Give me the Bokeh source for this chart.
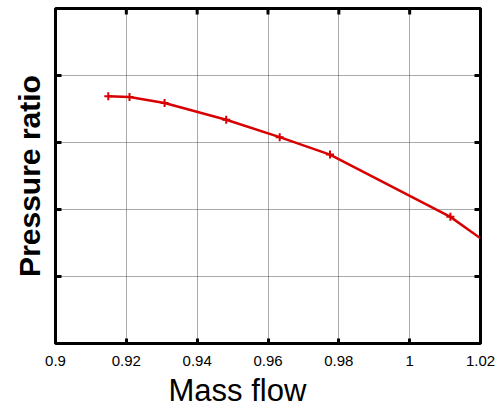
import math
from bokeh.plotting import figure
from bokeh.models import FixedTicker, Range1d, Title
from bokeh.embed import file_html
from bokeh.resources import INLINE

# Data
mass_flow = [0.9149, 0.9209, 0.9308, 0.9482, 0.9633, 0.9775, 1.0115, 1.0200]
pressure_ratio = [1.369, 1.368, 1.359, 1.334, 1.308, 1.282, 1.189, 1.157]
marker_flow = mass_flow[:-1]
marker_ratio = pressure_ratio[:-1]

x_ticks = [0.9, 0.92, 0.94, 0.96, 0.98, 1.0, 1.02]
x_tick_labels = {0.9: "0.9", 0.92: "0.92", 0.94: "0.94", 0.96: "0.96",
                 0.98: "0.98", 1.0: "1", 1.02: "1.02"}
y_ticks = [1.1, 1.2, 1.3, 1.4]
x_min, x_max = 0.9, 1.02
y_min, y_max = 1.0, 1.5

FONT = "Liberation Sans"
RED = "#d80000"

p = figure(width=504, height=410, output_backend="svg", toolbar_location=None,
           x_range=Range1d(x_min, x_max), y_range=Range1d(y_min, y_max),
           min_border_left=55, min_border_right=24, min_border_top=8,
           min_border_bottom=0)
p.background_fill_color = "white"
p.border_fill_color = "white"
p.outline_line_color = "black"
p.outline_line_width = 3

# grid
p.xgrid.ticker = FixedTicker(ticks=x_ticks)
p.ygrid.ticker = FixedTicker(ticks=y_ticks)
for g in (p.xgrid, p.ygrid):
    g.grid_line_color = "#555555"
    g.grid_line_dash = "1 1"
    g.grid_line_width = 1

p.line(mass_flow, pressure_ratio, line_color=RED, line_width=2.5)
p.scatter(marker_flow, marker_ratio, marker="cross", size=8,
          line_color=RED, line_width=2)

# inward tick marks on the top, left and right edges
inner_x = x_ticks[1:-1]
p.ray(x=inner_x, y=[y_max] * len(inner_x), length=6, length_units="screen",
      angle=-math.pi / 2, line_color="black", line_width=3)
p.ray(x=[x_min] * len(y_ticks), y=y_ticks, length=6, length_units="screen",
      angle=0, line_color="black", line_width=3)
p.ray(x=[x_max] * len(y_ticks), y=y_ticks, length=6, length_units="screen",
      angle=math.pi, line_color="black", line_width=3)

# bottom axis
xa = p.xaxis[0]
xa.ticker = FixedTicker(ticks=x_ticks)
xa.major_label_overrides = x_tick_labels
xa.major_label_text_font = FONT
xa.major_label_text_font_size = "15px"
xa.major_label_text_color = "black"
xa.major_label_standoff = 12
xa.axis_line_color = None
xa.major_tick_in = 5
xa.major_tick_out = 0
xa.major_tick_line_width = 3
xa.minor_tick_line_color = None

p.add_layout(Title(text="Mass flow", text_font=FONT, text_font_size="31px",
                   text_font_style="normal", text_color="black",
                   align="left", offset=113, standoff=5), "below")

# left axis (label only)
ya = p.yaxis[0]
ya.ticker = FixedTicker(ticks=[])
ya.axis_label = "Pressure ratio"
ya.axis_label_text_font = FONT
ya.axis_label_text_font_size = "30px"
ya.axis_label_text_font_style = "bold"
ya.axis_label_text_color = "black"
ya.axis_label_standoff = 10
ya.axis_line_color = None
ya.major_tick_line_color = None
ya.minor_tick_line_color = None

open("out.html", "w").write(file_html(p, INLINE))
